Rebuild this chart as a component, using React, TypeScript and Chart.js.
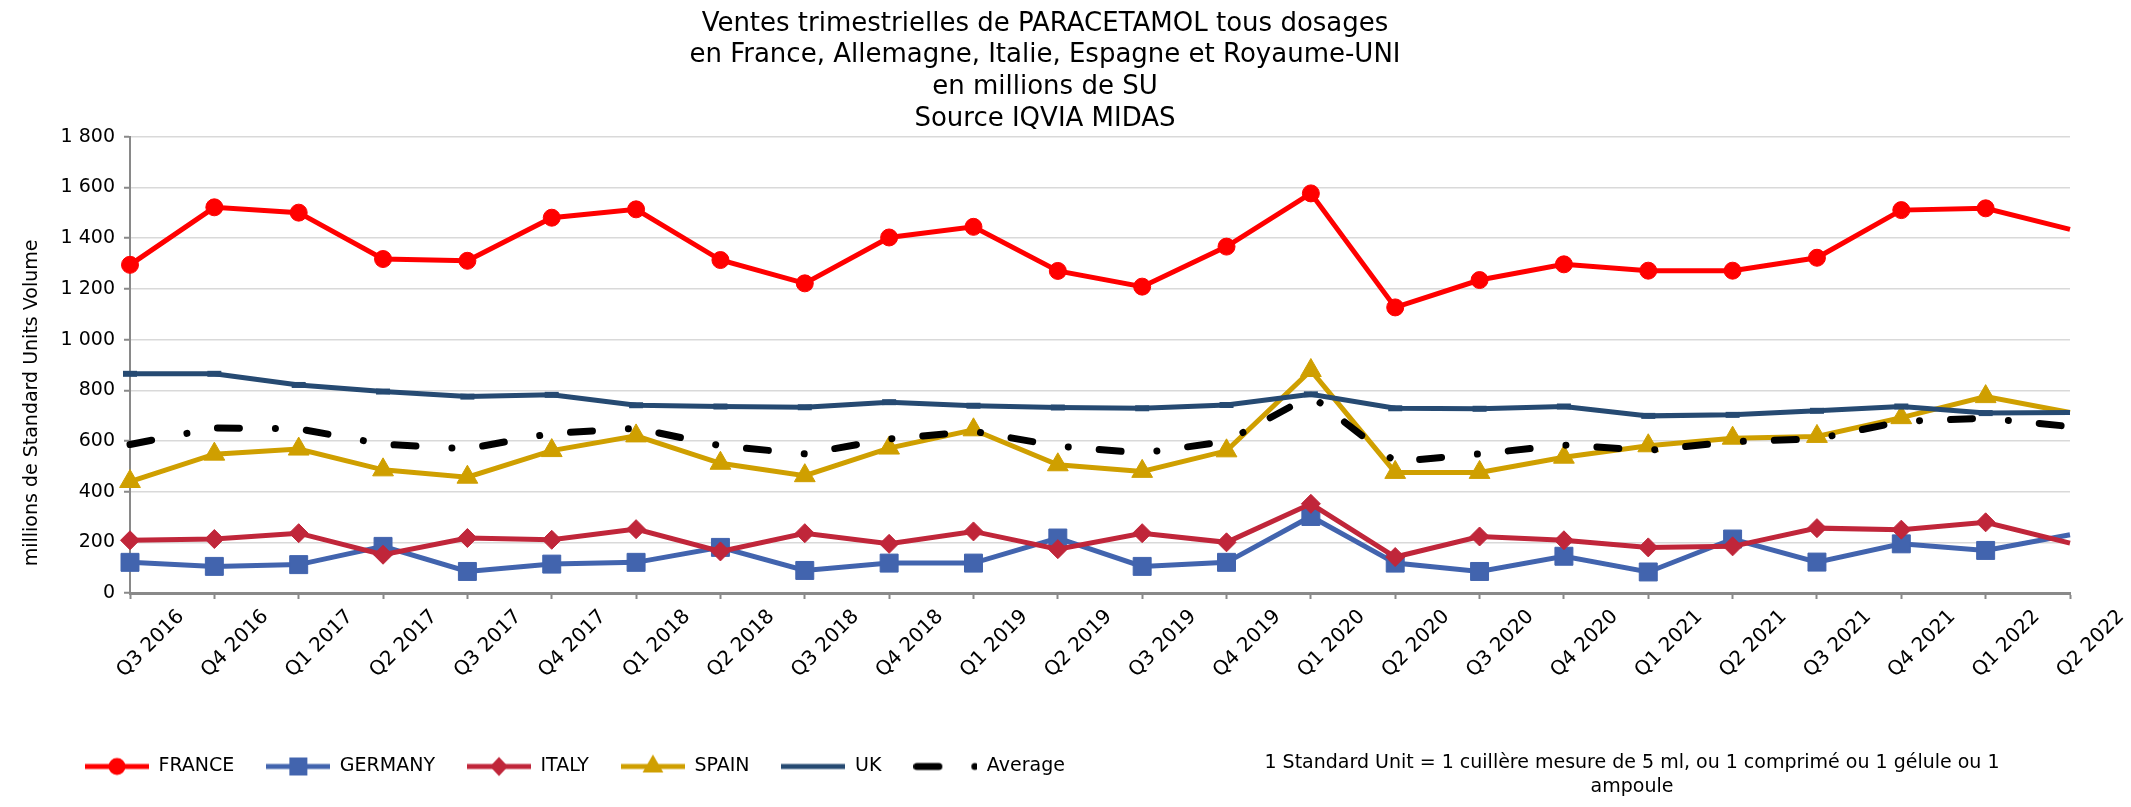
import React, { useEffect, useRef } from 'react';
import { Chart, registerables } from 'chart.js';

Chart.register(...registerables);

const FONT = '"DejaVu Sans", Verdana, sans-serif';

const TITLE_LINES = [
  'Ventes trimestrielles de PARACETAMOL tous dosages',
  'en France, Allemagne, Italie, Espagne et Royaume-UNI',
  'en millions de SU',
  'Source IQVIA MIDAS',
];
const Y_AXIS_TITLE = 'millions de Standard Units Volume';
const NOTE_LINES = [
  '1 Standard Unit = 1 cuillère mesure de 5 ml, ou 1 comprimé ou 1 gélule ou 1',
  'ampoule',
];

const CATEGORIES = [
  'Q3 2016', 'Q4 2016', 'Q1 2017', 'Q2 2017', 'Q3 2017', 'Q4 2017',
  'Q1 2018', 'Q2 2018', 'Q3 2018', 'Q4 2018', 'Q1 2019', 'Q2 2019',
  'Q3 2019', 'Q4 2019', 'Q1 2020', 'Q2 2020', 'Q3 2020', 'Q4 2020',
  'Q1 2021', 'Q2 2021', 'Q3 2021', 'Q4 2021', 'Q1 2022', 'Q2 2022',
];

const FRANCE = [1295, 1522, 1501, 1318, 1311, 1481, 1514, 1314, 1222, 1403, 1445, 1271, 1209, 1367, 1577, 1127, 1235, 1297, 1272, 1272, 1323, 1511, 1518, 1435];
const GERMANY = [121, 105, 112, 184, 85, 114, 121, 180, 89, 118, 118, 217, 105, 121, 302, 118, 85, 145, 83, 213, 122, 194, 168, 230];
const ITALY = [208, 213, 236, 151, 217, 210, 252, 164, 236, 194, 243, 173, 236, 200, 352, 142, 223, 208, 180, 184, 256, 250, 279, 197];
const SPAIN = [440, 548, 568, 486, 457, 562, 620, 512, 463, 572, 644, 506, 480, 561, 878, 476, 476, 536, 581, 611, 618, 692, 775, 712];
const UK = [865, 865, 821, 795, 775, 782, 741, 736, 733, 753, 739, 732, 729, 742, 784, 729, 727, 736, 699, 703, 719, 736, 710, 712];
const AVERAGE = [586, 651, 648, 587, 569, 630, 650, 581, 549, 608, 638, 580, 552, 598, 779, 518, 549, 584, 563, 597, 608, 677, 690, 657];

const Y_MIN = 0;
const Y_MAX = 1800;
const Y_STEP = 200;

const COLORS = {
  france: '#ff0000',
  germany: '#4264ae',
  italy: '#c0263a',
  spain: '#cf9f00',
  uk: '#264a72',
  average: '#000000',
};

const AVG_DASH = [22, 36, 0.01, 31];

function formatThousands(v: number): string {
  return String(v).replace(/\B(?=(\d{3})+(?!\d))/g, ' ');
}

function makeIcon(color: string, kind: string, dash?: number[]): HTMLCanvasElement {
  const c = document.createElement('canvas');
  c.width = 64;
  c.height = 28;
  const ctx = c.getContext('2d')!;
  const cy = 14;
  const cx = 32;
  ctx.strokeStyle = color;
  ctx.fillStyle = color;
  if (dash) {
    ctx.lineWidth = 7;
    ctx.lineCap = 'round';
    ctx.setLineDash(dash);
    ctx.beginPath();
    ctx.moveTo(3.5, cy);
    ctx.lineTo(64, cy);
    ctx.stroke();
    return c;
  }
  ctx.lineWidth = 5;
  ctx.beginPath();
  ctx.moveTo(0, cy);
  ctx.lineTo(64, cy);
  ctx.stroke();
  ctx.beginPath();
  if (kind === 'circle') {
    ctx.arc(cx, cy, 8.5, 0, Math.PI * 2);
  } else if (kind === 'rect') {
    ctx.rect(cx - 9, cy - 9, 18, 18);
  } else if (kind === 'rectRot') {
    ctx.moveTo(cx - 9, cy);
    ctx.lineTo(cx, cy - 9.5);
    ctx.lineTo(cx + 9, cy);
    ctx.lineTo(cx, cy + 9.5);
    ctx.closePath();
  } else if (kind === 'triangle') {
    const r = 12;
    ctx.moveTo(cx, cy - r);
    ctx.lineTo(cx + r * Math.sin((2 * Math.PI) / 3), cy + r / 2);
    ctx.lineTo(cx - r * Math.sin((2 * Math.PI) / 3), cy + r / 2);
    ctx.closePath();
  }
  ctx.fill();
  return c;
}

const yTitlePlugin = {
  id: 'yTitleCustom',
  afterDraw(chart: any) {
    const { ctx, chartArea } = chart;
    ctx.save();
    ctx.translate(32, (chartArea.top + chartArea.bottom) / 2 + 38);
    ctx.rotate(-Math.PI / 2);
    ctx.font = `19px ${FONT}`;
    ctx.fillStyle = '#000';
    ctx.textAlign = 'center';
    ctx.textBaseline = 'middle';
    ctx.fillText(Y_AXIS_TITLE, 0, 0);
    ctx.restore();
  },
};

export default function App() {
  const ref = useRef<HTMLCanvasElement>(null);

  useEffect(() => {
    const canvas = ref.current;
    if (!canvas) return;
    const last = CATEGORIES.length - 1;
    const rad = (r: number) => (ctx: any) => (ctx.dataIndex === last ? 0 : r);

    const icons = [
      makeIcon(COLORS.france, 'circle'),
      makeIcon(COLORS.germany, 'rect'),
      makeIcon(COLORS.italy, 'rectRot'),
      makeIcon(COLORS.spain, 'triangle'),
      makeIcon(COLORS.uk, 'none'),
      makeIcon(COLORS.average, 'none', AVG_DASH),
    ];

    const lineDs = (label: string, data: number[], color: string, style: string, r: number, order: number) => ({
      label,
      data,
      borderColor: color,
      backgroundColor: color,
      borderWidth: 5,
      pointStyle: style,
      pointRadius: rad(r),
      pointBackgroundColor: color,
      pointBorderColor: color,
      pointBorderWidth: 1,
      tension: 0,
      clip: false as any,
      order,
    });

    const chart = new Chart(canvas, {
      type: 'line',
      data: {
        labels: CATEGORIES,
        datasets: [
          lineDs('FRANCE', FRANCE, COLORS.france, 'circle', 8.5, 5),
          lineDs('GERMANY', GERMANY, COLORS.germany, 'rect', 12.7, 4),
          lineDs('ITALY', ITALY, COLORS.italy, 'rectRot', 9.5, 3),
          lineDs('SPAIN', SPAIN, COLORS.spain, 'triangle', 12, 2),
          {
            ...lineDs('UK', UK, COLORS.uk, 'line', 7, 1),
            pointBorderWidth: 6,
          },
          {
            label: 'Average',
            data: AVERAGE,
            borderColor: COLORS.average,
            backgroundColor: COLORS.average,
            borderWidth: 7,
            borderDash: AVG_DASH,
            borderCapStyle: 'round',
            pointRadius: 0,
            tension: 0,
            clip: false as any,
            order: 0,
          } as any,
        ],
      },
      options: {
        responsive: false,
        animation: false,
        events: [],
        font: { family: FONT },
        layout: { padding: { left: 53, right: 61, top: 0, bottom: 21 } },
        plugins: {
          title: {
            display: true,
            text: TITLE_LINES.map((t) => t + '    '),
            color: '#000',
            font: { family: FONT, size: 26, weight: 'normal', lineHeight: 1.22 },
            padding: { top: 8, bottom: 2 },
          },
          legend: {
            position: 'bottom',
            align: 'start',
            labels: {
              usePointStyle: true,
              pointStyleWidth: 64,
              padding: 32,
              color: '#000',
              font: { family: FONT, size: 19 },
              generateLabels: (ch: any) => {
                const items = (Chart.defaults.plugins.legend.labels as any).generateLabels(ch);
                items.sort((a: any, b: any) => a.datasetIndex - b.datasetIndex);
                return items.map((it: any) => ({ ...it, pointStyle: icons[it.datasetIndex], lineWidth: 0 }));
              },
            },
          },
          tooltip: { enabled: false },
        },
        scales: {
          x: {
            type: 'category',
            offset: false,
            grid: {
              drawOnChartArea: false,
              drawTicks: true,
              tickLength: 6,
              tickColor: '#898989',
              tickWidth: 2,
            },
            border: { color: '#898989', width: 3 },
            ticks: {
              autoSkip: false,
              minRotation: 45,
              maxRotation: 45,
              labelOffset: 51,
              padding: 6,
              color: '#000',
              font: { family: FONT, size: 20 },
            },
            afterFit: (s: any) => {
              s.height = 132;
            },
          },
          y: {
            min: Y_MIN,
            max: Y_MAX,
            ticks: {
              stepSize: Y_STEP,
              padding: 9,
              color: '#000',
              font: { family: FONT, size: 19 },
              callback: (v: any) => formatThousands(Number(v)),
            },
            grid: {
              color: '#d9d9d9',
              lineWidth: 1.5,
              tickColor: '#898989',
              tickLength: 6,
              tickWidth: 2,
            },
            border: { color: '#898989', width: 2 },
            afterFit: (s: any) => {
              s.width = 77;
            },
          },
        },
      } as any,
      plugins: [yTitlePlugin],
    });

    return () => chart.destroy();
  }, []);

  return (
    <div style={{ position: 'absolute', left: 0, top: 0, width: 2131, height: 807, background: '#fff' }}>
      <canvas ref={ref} width={2131} height={807} style={{ display: 'block' }} />
      <div
        style={{
          position: 'absolute',
          left: 1232,
          width: 800,
          top: 750,
          textAlign: 'center',
          fontFamily: FONT,
          fontSize: 19,
          lineHeight: '23.5px',
          whiteSpace: 'nowrap',
          color: '#000',
        }}
      >
        {NOTE_LINES[0]}
        <br />
        {NOTE_LINES[1]}
      </div>
    </div>
  );
}
